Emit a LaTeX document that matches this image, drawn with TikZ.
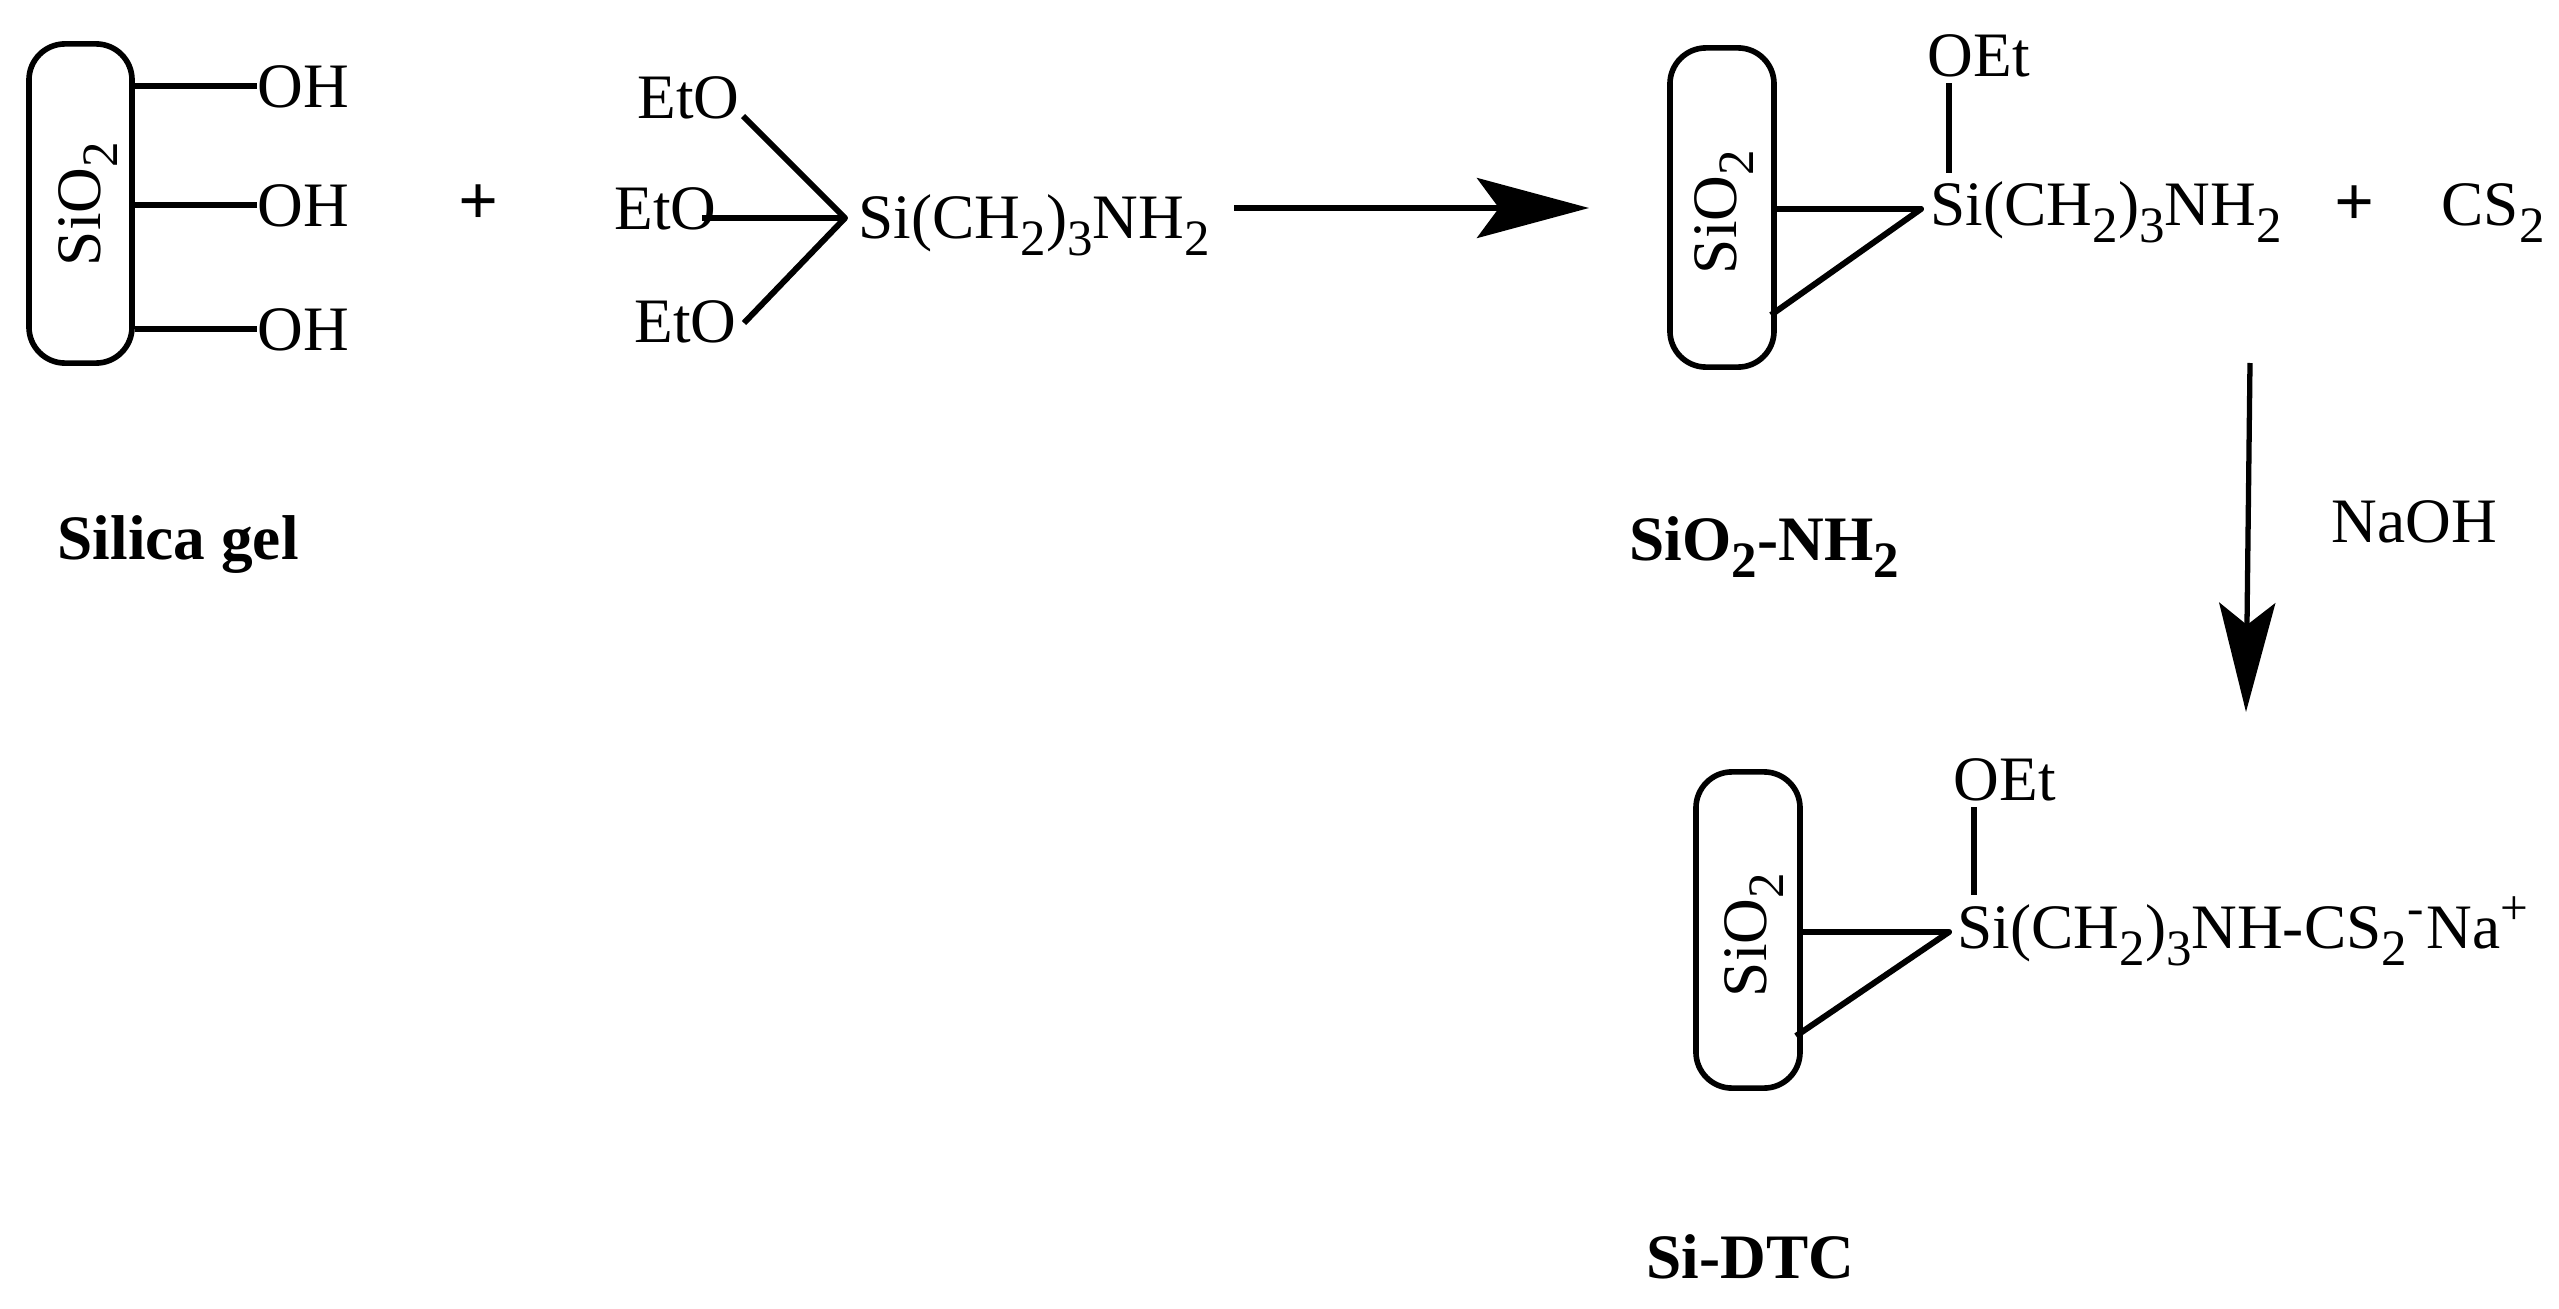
\documentclass[tikz,border=0pt]{standalone}
\usepackage{fontspec}
\setmainfont{Liberation Serif}
\usetikzlibrary{arrows.meta}
\newcommand{\lowtxt}[1]{\raisebox{-0.6ex}{\fontsize{14.5}{14.5}\selectfont #1}}
\newcommand{\hightxt}[1]{\raisebox{0.8ex}{\fontsize{14}{14}\selectfont #1}}
\begin{document}
\begin{tikzpicture}[x=0.01cm, y=-0.01cm, line join = round, >=stealth]
	\tikzset{chem/.style={anchor=base west, inner sep=0pt, font=\fontsize{18}{20}\selectfont},
		title/.style={chem, font=\fontsize{18}{20}\selectfont\bfseries},
		support/.style={draw, line width=1.6pt, rounded corners=0.36cm, inner sep=0pt},
		sio/.style={rotate=90, inner sep=0pt, font=\fontsize{18}{20}\selectfont},
		bond/.style={line width=1.7pt},
		plus/.style={inner sep=0pt, font=\fontsize{20}{20}\selectfont\bfseries},
		bigarrow/.style={line width=1.5pt, -{Stealth[length=1.12cm, width=0.6cm, inset=0.22cm]}}}
	\useasboundingbox (0,0) rectangle (2559,1309);
	% silica gel
	\node[support, minimum width=1.03cm, minimum height=3.19cm] (box1) at (80.5,203.5) {};
	\node[sio] (sio1) at (88,204) {SiO\lowtxt{2}};
	\node[chem] (oh1) at (257,107) {OH};
	\node[chem] (oh2) at (257,226) {OH};
	\node[chem] (oh3) at (257,350) {OH};
	\foreach \n/\y in {1/86,2/205,3/329}
		\draw[bond] (box1.east |- 0,\y) -- (oh\n.west |- 0,\y);
	\node[title] (gel) at (57,559) {Silica gel};
	\node[plus] (plus1) at (479,205) {+};
	% silane
	\node[chem] (eto1) at (637,118) {EtO};
	\node[chem] (eto2) at (614,229) {EtO};
	\node[chem] (eto3) at (634,342) {EtO};
	\node[chem] (silane) at (858,238) {Si(CH\lowtxt{2})\lowtxt{3}NH\lowtxt{2}};
	\coordinate (hub) at (845,218);
	\coordinate (end1) at (743,116);
	\coordinate (end2) at (702,218);
	\coordinate (end3) at (744,323);
	\draw[bond] (end1) -- (hub) -- (end3) (end2) -- (hub);
	% first step
	\coordinate (start1) at (1234,208);
	\coordinate (tip1) at (1589,208);
	\draw[bigarrow] (start1) -- (tip1);
	% amine product
	\node[support, minimum width=1.04cm, minimum height=3.19cm] (box2) at (1722,207.5) {};
	\node[sio] (sio2) at (1724,212) {SiO\lowtxt{2}};
	\node[chem] (oet2) at (1927,76) {OEt};
	\node[chem] (amine) at (1930,225) {Si(CH\lowtxt{2})\lowtxt{3}NH\lowtxt{2}};
	\coordinate (bondtop2) at (1949,83);
	\coordinate (bondlow2) at (1949,173);
	\coordinate (apex2) at (1921,209);
	\coordinate (foot2) at (1771,315);
	\draw[bond] (bondtop2) -- (bondlow2);
	\draw[bond] (box2.east |- apex2) -- (apex2) -- (foot2);
	\node[plus] (plus2) at (2355,206) {+};
	\node[chem] (cs) at (2441,225) {CS\lowtxt{2}};
	\node[title] (namine) at (1629,560) {SiO\lowtxt{2}-NH\lowtxt{2}};
	% second step
	\node[chem] (naoh) at (2331,542) {NaOH};
	\coordinate (start2) at (2250,363);
	\coordinate (tip2) at (2246,712);
	\draw[bigarrow, -{Stealth[length=1.09cm, width=0.56cm, inset=0.22cm]}] (start2) -- (tip2);
	% dithiocarbamate
	\node[support, minimum width=1.04cm, minimum height=3.16cm] (box3) at (1748,930) {};
	\node[sio] (sio3) at (1754,935) {SiO\lowtxt{2}};
	\node[chem] (oet3) at (1953,800) {OEt};
	\node[chem] (dtc) at (1957,948) {Si(CH\lowtxt{2})\lowtxt{3}NH-CS\lowtxt{2}\hightxt{-}\hspace{0.05em}Na\hightxt{+}};
	\coordinate (bondtop3) at (1974,807);
	\coordinate (bondlow3) at (1974,895);
	\coordinate (apex3) at (1949,932);
	\coordinate (foot3) at (1796,1036);
	\draw[bond] (bondtop3) -- (bondlow3);
	\draw[bond] (box3.east |- apex3) -- (apex3) -- (foot3);
	\node[title] (sidtc) at (1646,1278) {Si-DTC};
\end{tikzpicture}
\end{document}
